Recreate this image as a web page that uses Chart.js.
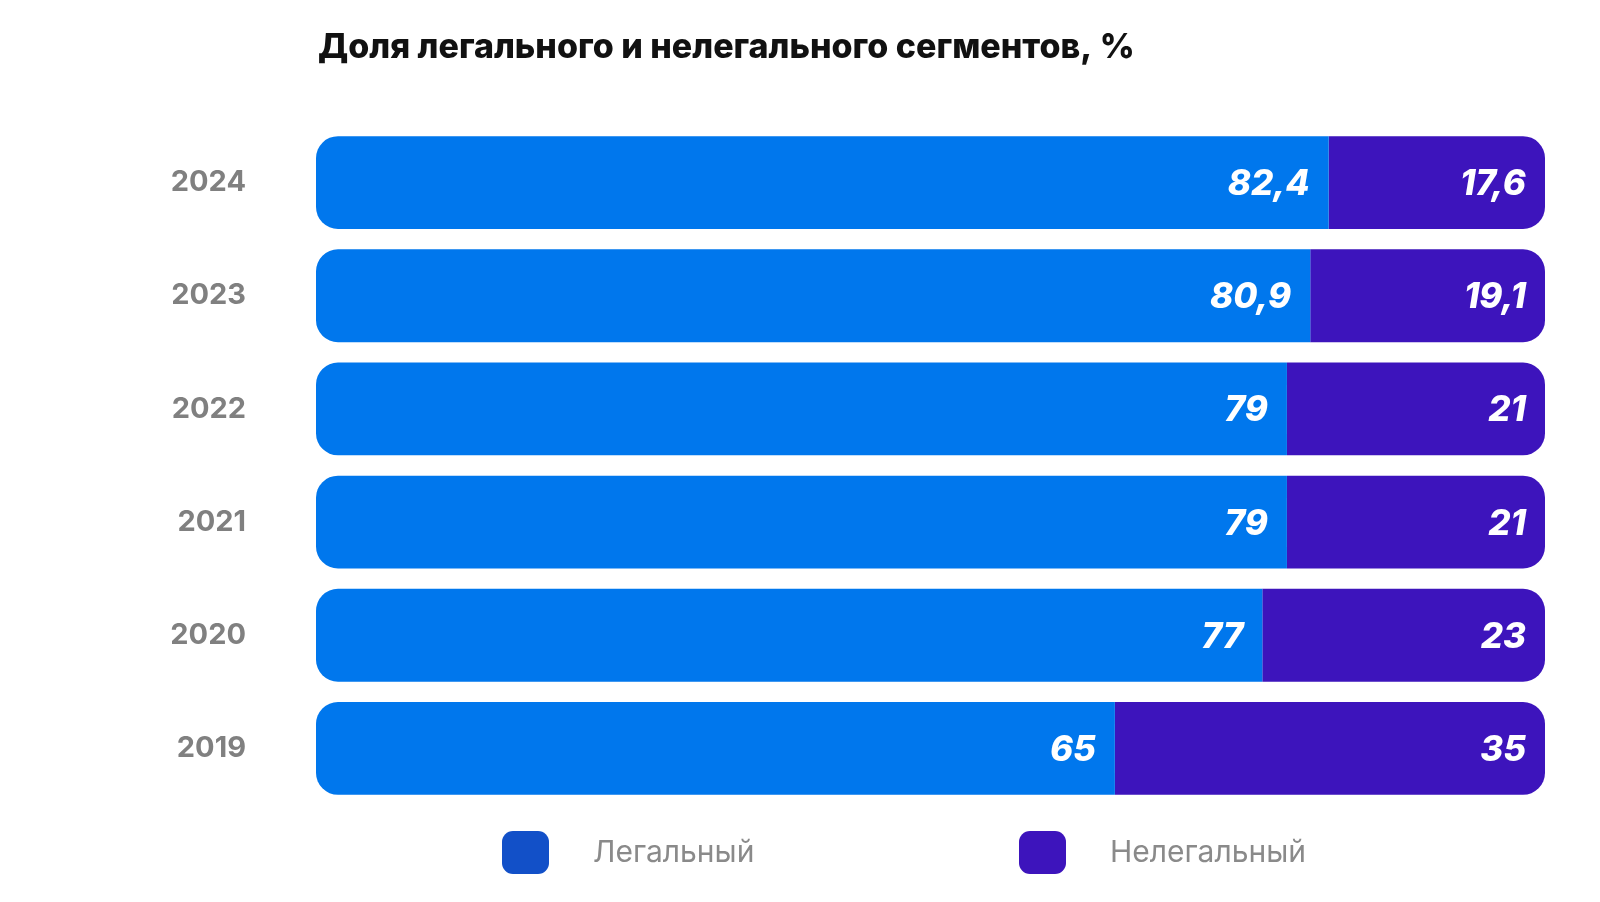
<!DOCTYPE html>
<html><head><meta charset="utf-8">
<script src="https://cdn.jsdelivr.net/npm/chart.js@4"></script>
<style>html,body{margin:0;background:#fff}#w{width:1600px;height:902px}</style>
</head><body><div id="w"><canvas id="c"></canvas></div>
<script>
const years = ['2024','2023','2022','2021','2020','2019'];
const legal = [82.4, 80.9, 79, 79, 77, 65];
const illegal = [17.6, 19.1, 21, 21, 23, 35];
const seriesNames = ['Легальный','Нелегальный'];
const titleText = 'Доля легального и нелегального сегментов, %';
const C1 = '#0077ED', C2 = '#3D14BC', LEG1 = '#1250C8';
const fmt = v => String(v).replace('.', ',');

const overlay = {
  id: 'overlay',
  afterDatasetsDraw(chart) {
    const ctx = chart.ctx;
    ctx.save();
    ctx.fillStyle = '#fff';
    ctx.font = 'italic 800 35px Inter, sans-serif';
    ctx.textAlign = 'right'; ctx.textBaseline = 'middle';
    chart.data.datasets.forEach((ds, di) => {
      chart.getDatasetMeta(di).data.forEach((bar, i) => {
        ctx.fillText(fmt(ds.data[i]), bar.x - 19, bar.y + 2);
      });
    });
    ctx.fillStyle = '#111';
    ctx.font = '800 34px Inter, sans-serif';
    ctx.textAlign = 'left';
    ctx.fillText(titleText, 318, 48);
    const items = [[502, LEG1, seriesNames[0]], [1019, C2, seriesNames[1]]];
    ctx.font = '400 30px Inter, sans-serif';
    items.forEach(([x, col, t]) => {
      ctx.fillStyle = col;
      ctx.beginPath(); ctx.roundRect(x, 831, 47, 43, 11); ctx.fill();
      ctx.fillStyle = '#8a8a8a';
      ctx.fillText(t, x + 91, 853);
    });
    ctx.restore();
  }
};

new Chart(document.getElementById('c'), {
  type: 'bar',
  data: {
    labels: years,
    datasets: [
      { label: seriesNames[0], data: legal, backgroundColor: C1, borderSkipped: false,
        borderRadius: {topLeft: 22, bottomLeft: 22, topRight: 0, bottomRight: 0} },
      { label: seriesNames[1], data: illegal, backgroundColor: C2, borderSkipped: false,
        borderRadius: {topLeft: 0, bottomLeft: 0, topRight: 22, bottomRight: 22} }
    ]
  },
  options: {
    indexAxis: 'y', responsive: true, maintainAspectRatio: false, animation: false,
    layout: { padding: { left: 0, right: 55, top: 126, bottom: 97 } },
    barPercentage: 0.82, categoryPercentage: 1,
    plugins: { legend: { display: false }, tooltip: { enabled: false } },
    scales: {
      x: { stacked: true, min: 0, max: 100, display: false },
      y: { stacked: true, grid: { display: false }, border: { display: false },
        ticks: { color: '#808080', font: { family: 'Inter', weight: 700, size: 29 }, padding: 62 },
        afterFit: s => { s.width = 316; } }
    }
  },
  plugins: [overlay]
});
</script></body></html>
